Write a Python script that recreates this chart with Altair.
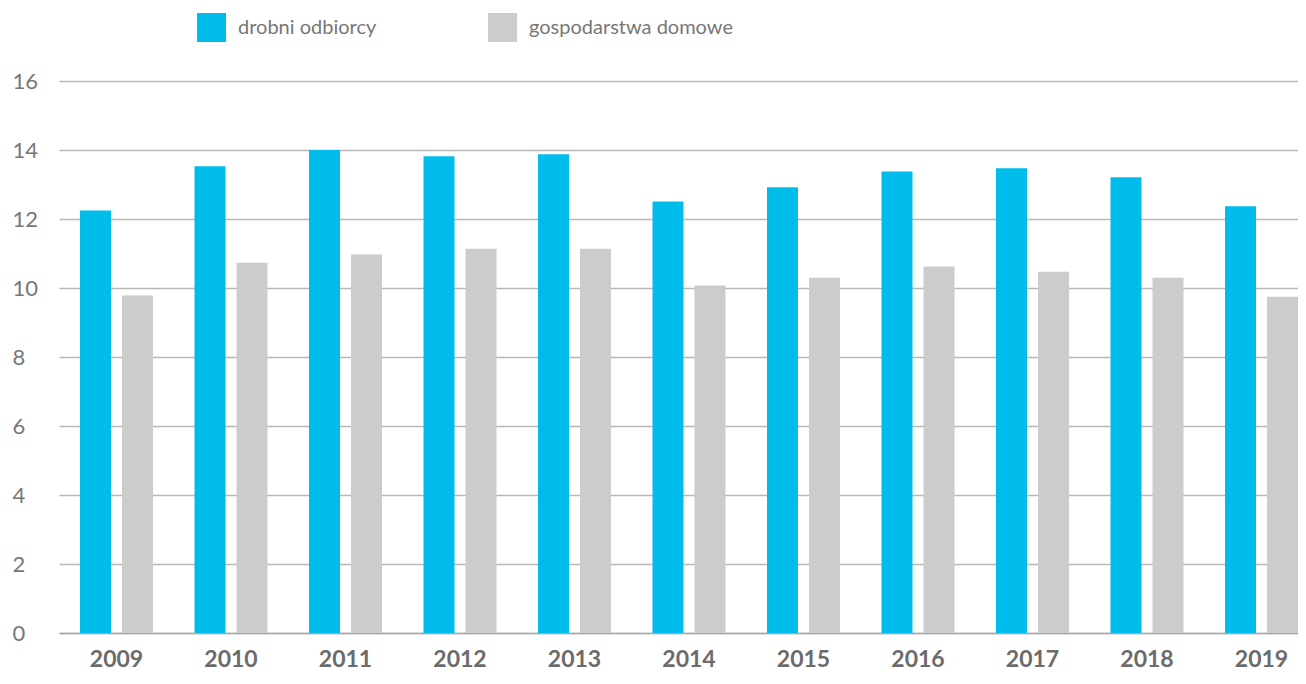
import altair as alt
import pandas as pd

years = ["2009", "2010", "2011", "2012", "2013", "2014", "2015", "2016", "2017", "2018", "2019"]
drobni = [12.25, 13.53, 14.0, 13.82, 13.88, 12.51, 12.92, 13.38, 13.47, 13.21, 12.37]
gosp = [9.78, 10.73, 10.97, 11.14, 11.14, 10.07, 10.30, 10.62, 10.47, 10.30, 9.75]
series = ["drobni odbiorcy", "gospodarstwa domowe"]
colors = ["#00BCEB", "#CCCCCC"]

rows = []
for y, a, b in zip(years, drobni, gosp):
    rows.append({"rok": y, "seria": series[0], "wartosc": a})
    rows.append({"rok": y, "seria": series[1], "wartosc": b})
df = pd.DataFrame(rows)

chart = alt.Chart(df).mark_bar().encode(
    x=alt.X("rok:N", sort=years, title=None,
            scale=alt.Scale(paddingInner=0.3624, paddingOuter=0.0917, align=1),
            axis=alt.Axis(labelAngle=0, labelFont="Lato", labelFontWeight="bold",
                          labelFontSize=23, labelColor="#6b6b6b", labelPadding=15,
                          ticks=False, domainColor="#aaaaaa", domainWidth=1.5)),
    xOffset=alt.XOffset("seria:N", sort=series,
                        scale=alt.Scale(paddingInner=0.262, paddingOuter=0)),
    y=alt.Y("wartosc:Q", title=None,
            scale=alt.Scale(domain=[0, 16], nice=False),
            axis=alt.Axis(values=[0, 2, 4, 6, 8, 10, 12, 14, 16], labelFont="Lato",
                          labelFontSize=22, labelColor="#777777", labelAlign="left",
                          labelPadding=47, ticks=False, domain=False,
                          gridColor="#b8b8b8", gridWidth=1.5)),
    color=alt.Color("seria:N", sort=series,
                    scale=alt.Scale(domain=series, range=colors),
                    legend=alt.Legend(title=None, orient="none", direction="horizontal",
                                      legendX=138, legendY=-68,
                                      symbolType="square", symbolSize=841,
                                      symbolStrokeWidth=0, labelOffset=12,
                                      labelFont="Lato", labelFontSize=20,
                                      labelLimit=0,
                                      labelColor="#777777", columnPadding=111,
                                      padding=0)),
).properties(
    width=1239, height=552,
    padding={"left": 4, "right": 0, "top": 5, "bottom": 5}
).configure_view(stroke=None)

chart.save("out.html", embed_options={"renderer": "svg", "actions": False})
